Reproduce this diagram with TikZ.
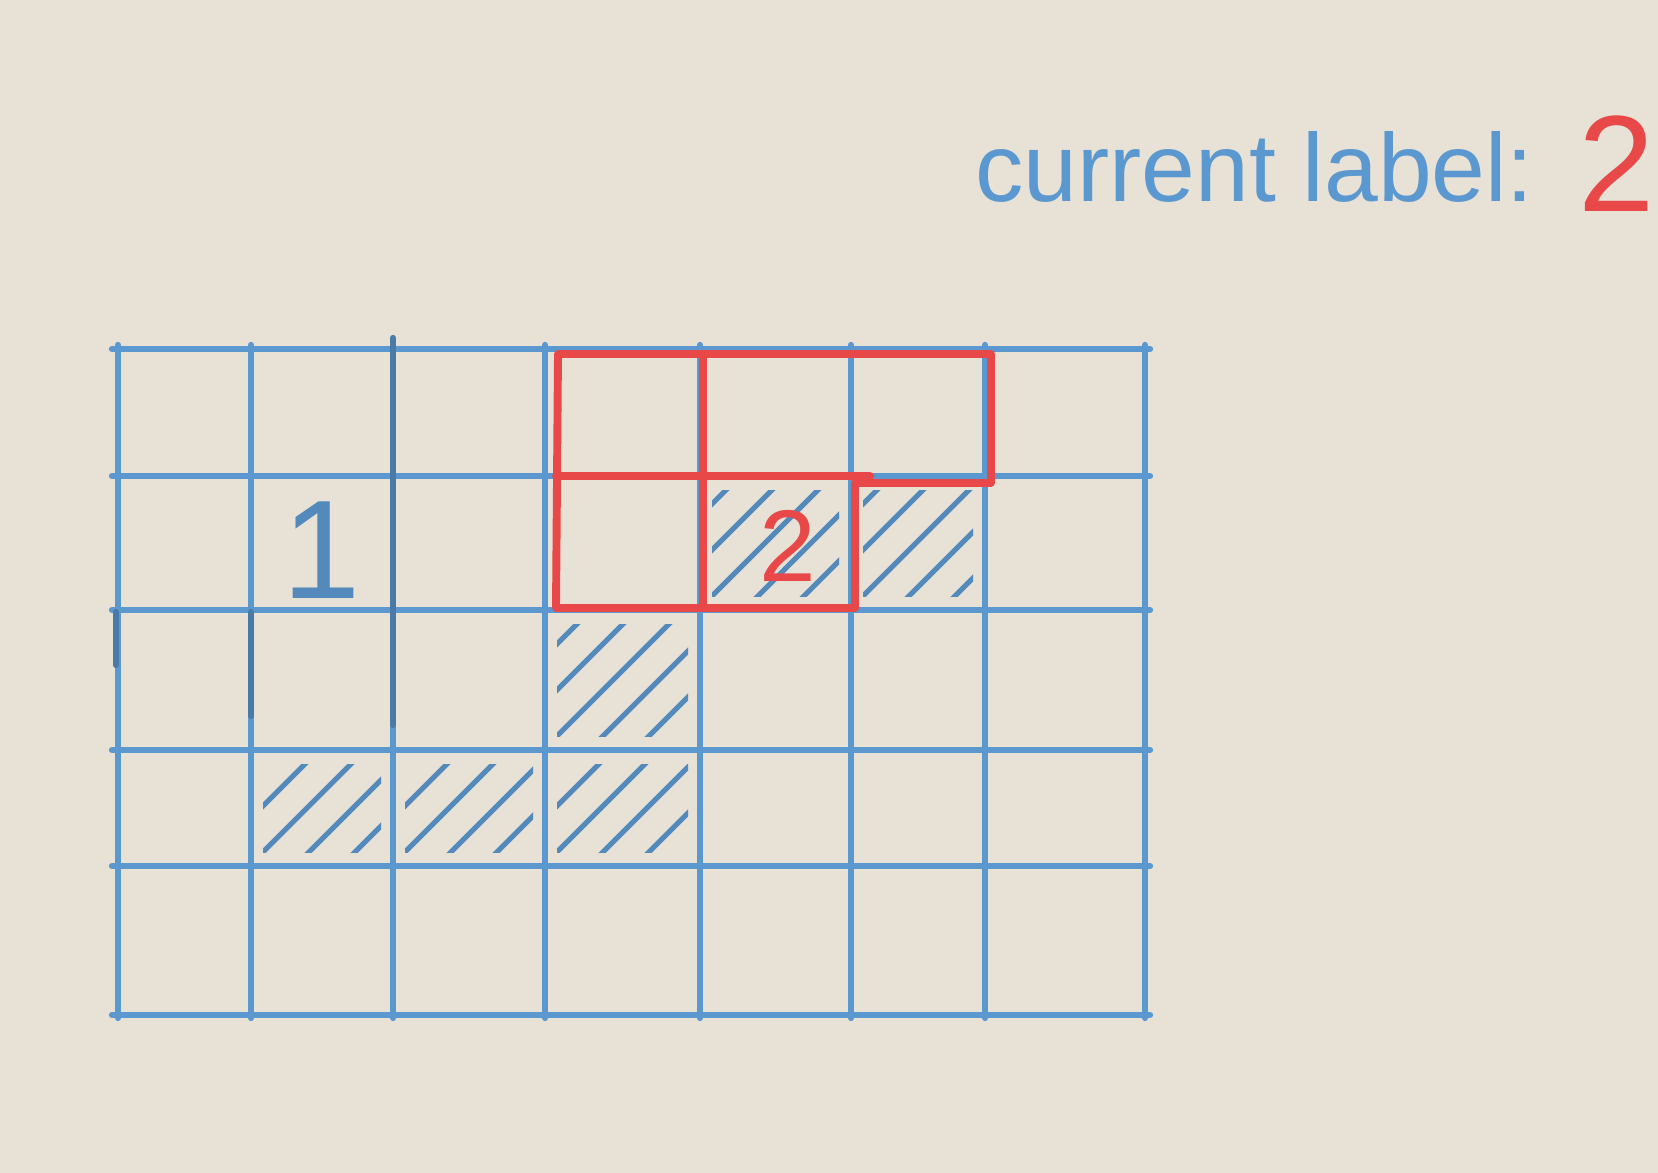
\documentclass[tikz,border=0pt]{standalone}
\usepackage{fontspec}
\setmainfont{Liberation Sans}

\definecolor{board}{RGB}{231,225,214}
\definecolor{markerblue}{RGB}{92,152,208}
\definecolor{markerred}{RGB}{232,72,72}

\begin{document}
\begin{tikzpicture}[x=0.02cm, y=-0.02cm, line cap=round, line join=round,
    bluemark/.style={markerblue, line width=3.6pt},
    redmark/.style={markerred, line width=4.5pt},
    hatch/.style={markerblue!90!black, line width=3pt}]
    \fill[board] (0,0) rectangle (1658,1173);
    \useasboundingbox (0,0) rectangle (1658,1173);
    % grid
    \foreach \x in {118,251,393,545,700,851,985,1145}
        \draw[bluemark] (\x,345) -- (\x,1018);
    \foreach \y in {349,476,610,750,866,1015}
        \draw[bluemark] (112,\y) -- (1150,\y);
    \draw[bluemark, markerblue!80!black] (393,338) -- (393,725);
    \draw[bluemark, markerblue!80!black] (251,612) -- (251,716);
    \draw[bluemark, markerblue!80!black] (116,612) -- (116,665);
    % hatched cells
    \foreach \xa/\ya/\xb/\yb in {700/476/851/610, 851/476/985/610, 545/610/700/750,
                                 251/750/393/866, 393/750/545/866, 545/750/700/866}{
        \begin{scope}
            \clip (\xa+12,\ya+14) rectangle (\xb-12,\yb-14);
            \foreach \k in {0,...,6}
                \draw[hatch] (\xa-140+\k*46,\yb) -- ++(170,-170);
        \end{scope}
    }
    % red region
    \draw[redmark] (558,354) -- (991,354) -- (991,483) -- (855,483) -- (855,608) -- (556,608) -- cycle;
    \draw[redmark] (556,476) -- (870,476);
    \draw[redmark] (703,354) -- (703,608);
    % labels
    \node[markerblue!90!black, font=\fontsize{80}{80}\selectfont] (one) at (322,550) {1};
    \node[markerred, font=\fontsize{58}{58}\selectfont] (two) at (788,546) {2};
    \node[markerblue, anchor=base west, inner sep=0pt, font=\fontsize{55}{55}\selectfont] (curlabel) at (975,201) {current label:};
    \node[markerred, anchor=base west, inner sep=0pt, font=\fontsize{78}{78}\selectfont] (curvalue) at (1578,211) {2};
\end{tikzpicture}
\end{document}
